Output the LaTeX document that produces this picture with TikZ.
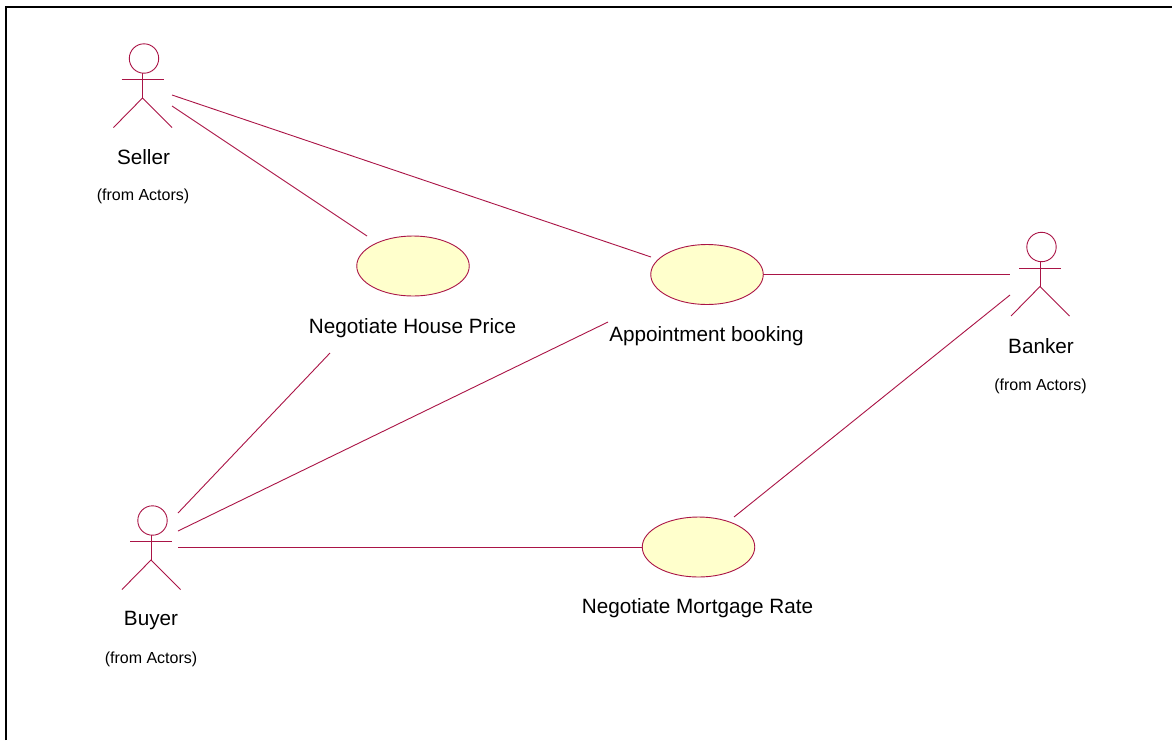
\documentclass[tikz,border=0pt]{standalone}
\usepackage{fontspec}
\setmainfont{Liberation Sans}
\definecolor{umlline}{RGB}{170,20,70}
\definecolor{umlfill}{RGB}{255,255,204}
\tikzset{
  x=1pt,y=-1pt,
  usecase/.style={ellipse,draw=umlline,fill=umlfill,line width=0.9pt,inner sep=0pt,minimum width=112.5pt,minimum height=60pt},
  assoc/.style={draw=umlline,line width=0.9pt},
  label/.style={inner sep=0pt,anchor=base,font=\fontsize{20.7}{24}\selectfont,text=black},
  origin/.style={inner sep=0pt,anchor=base,font=\fontsize{16}{18}\selectfont,text=black},
  actorline/.style={draw=umlline,line width=0.9pt},
  pics/actor/.style={code={
    \draw[actorline] (1.5,-21) circle[radius=14.7];
    \draw[actorline] (0,-6.5) -- (0,18.5);
    \draw[actorline] (-21,0) -- (21,0);
    \draw[actorline] (-29,48) -- (0,18.5) -- (29.5,48);
  }}
}
\usetikzlibrary{shapes.geometric}
\begin{document}
\begin{tikzpicture}
\useasboundingbox (0,0) rectangle (1172,740);
\fill[white] (0,0) rectangle (1172,740);
\draw[black,line width=2pt] (5.5,740) -- (5.5,7) -- (1172,7);

\pic at (142.5,79.5) {actor};
\pic at (1040,268) {actor};
\pic at (151,541.5) {actor};

\node[usecase] (house) at (413,266) {};
\node[usecase] (appt) at (707,274.5) {};
\node[usecase] (rate) at (698.5,547) {};

\node[label] (sellerl) at (143.5,164.5) {Seller};
\node[origin] (sellero) at (143,200) {(from Actors)};
\node[label] (bankerl) at (1041,353) {Banker};
\node[origin] (bankero) at (1040.5,390) {(from Actors)};
\node[label] (buyerl) at (151,625) {Buyer};
\node[origin] (buyero) at (151,663) {(from Actors)};
\node[label] (housel) at (412.5,333) {Negotiate House Price};
\node[label] (apptl) at (706.5,341) {Appointment booking};
\node[label] (ratel) at (697.5,613) {Negotiate Mortgage Rate};

\coordinate (s1) at (172,95);
\coordinate (s2) at (172,106);
\coordinate (b1) at (1010,274);
\coordinate (b2) at (1010,295);
\coordinate (u1) at (178,513);
\coordinate (u2) at (178,531);
\coordinate (u3) at (178,547);
\coordinate (h1) at (367,236);
\coordinate (h2) at (330,353);
\coordinate (a1) at (651,257);
\coordinate (a2) at (608,322);
\coordinate (a3) at (763,274);
\coordinate (r1) at (642,547);
\coordinate (r2) at (734,517);

\draw[assoc] (s1) -- (a1);
\draw[assoc] (s2) -- (h1);
\draw[assoc] (a3) -- (b1);
\draw[assoc] (b2) -- (r2);
\draw[assoc] (h2) -- (u1);
\draw[assoc] (a2) -- (u2);
\draw[assoc] (u3) -- (r1);
\end{tikzpicture}
\end{document}
